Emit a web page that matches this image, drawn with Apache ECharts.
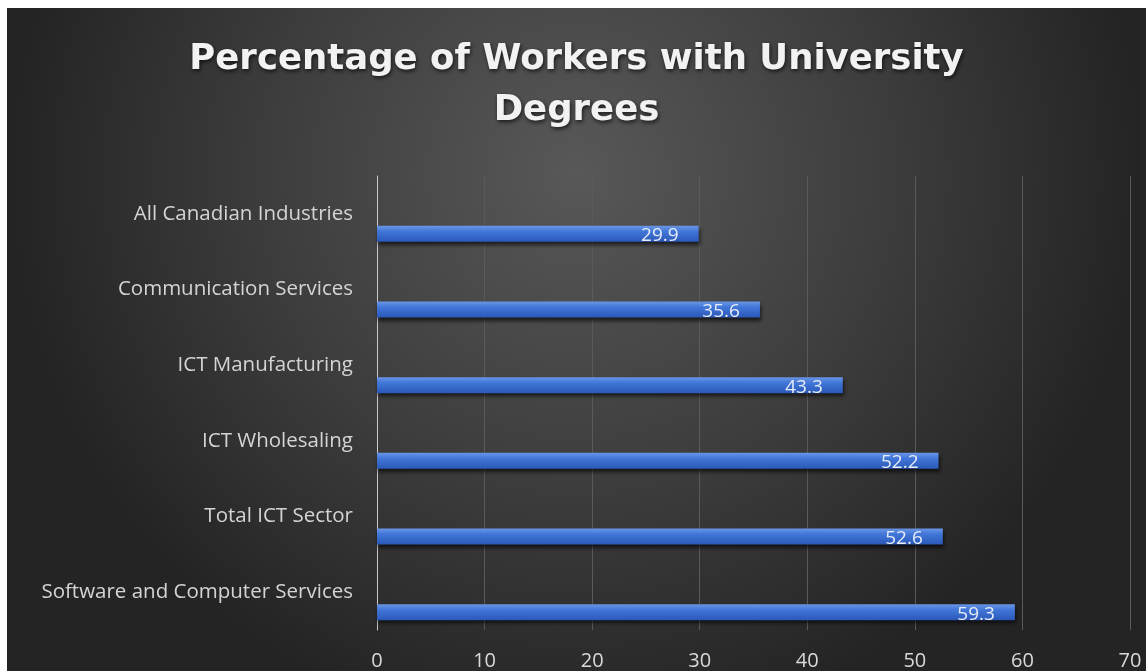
<!DOCTYPE html>
<html>
<head>
<meta charset="utf-8">
<script src="https://cdn.jsdelivr.net/npm/echarts@6/dist/echarts.min.js"></script>
<style>
html,body{margin:0;padding:0;background:#ffffff;}
#chart{position:absolute;left:7px;top:8px;width:1139px;height:663px;}
</style>
</head>
<body>
<div id="chart"></div>
<script>
const categories = ["All Canadian Industries","Communication Services","ICT Manufacturing","ICT Wholesaling","Total ICT Sector","Software and Computer Services"];
const values = [29.9, 35.6, 43.3, 52.2, 52.6, 59.3];
const spacerValues = ["-", "-", "-", "-", "-", "-"];
const xTicks = [0, 10, 20, 30, 40, 50, 60, 70];
const titleText = "Percentage of Workers with University\nDegrees";

const chart = echarts.init(document.getElementById('chart'));
chart.setOption({
  animation: false,
  backgroundColor: {
    type: 'radial', x: 0.5, y: 0.25, r: 0.85,
    colorStops: [
      {offset: 0, color: '#585858'},
      {offset: 0.55, color: '#3d3d3d'},
      {offset: 1, color: '#242424'}
    ]
  },
  title: {
    text: titleText,
    left: 'center',
    top: 21,
    textStyle: {
      fontFamily: 'DejaVu Sans',
      fontWeight: 'bold',
      fontSize: 35.5,
      lineHeight: 51,
      color: '#f2f2f2',
      textShadowColor: 'rgba(0,0,0,0.7)',
      textShadowBlur: 4,
      textShadowOffsetX: 1,
      textShadowOffsetY: 2
    }
  },
  grid: {left: 370, right: 16, top: 168, bottom: 39, containLabel: false},
  xAxis: {
    type: 'value',
    min: xTicks[0],
    max: xTicks[xTicks.length - 1],
    interval: 10,
    axisLine: {show: false},
    axisTick: {show: false},
    splitLine: {show: true, lineStyle: {color: '#5a5a5a', width: 1}},
    axisLabel: {color: '#d9d9d9', fontFamily: 'Open Sans', fontSize: 20, margin: 21}
  },
  yAxis: {
    type: 'category',
    data: categories,
    inverse: true,
    axisLine: {show: true, lineStyle: {color: '#c8c8c8', width: 1}},
    axisTick: {show: false},
    axisLabel: {color: '#d4d4d4', fontFamily: 'Open Sans', fontSize: 20.5, margin: 24, offset: [0, 3]}
  },
  series: [
    {
      type: 'bar',
      data: spacerValues,
      barWidth: 16,
      barGap: '150%',
      itemStyle: {color: 'transparent'}
    },
    {
      type: 'bar',
      data: values,
      barWidth: 16,
      itemStyle: {
        color: {
          type: 'linear', x: 0, y: 0, x2: 0, y2: 1,
          colorStops: [
            {offset: 0, color: '#6b96e6'},
            {offset: 0.35, color: '#4177d9'},
            {offset: 1, color: '#2a58b8'}
          ]
        },
        shadowColor: 'rgba(0,0,0,0.65)',
        shadowBlur: 4,
        shadowOffsetX: 1,
        shadowOffsetY: 3
      },
      label: {
        show: true,
        position: 'insideRight',
        distance: 20,
        color: '#e6ecf7',
        fontFamily: 'Open Sans',
        fontSize: 19,
        offset: [0, 2]
      }
    }
  ]
});
</script>
</body>
</html>
